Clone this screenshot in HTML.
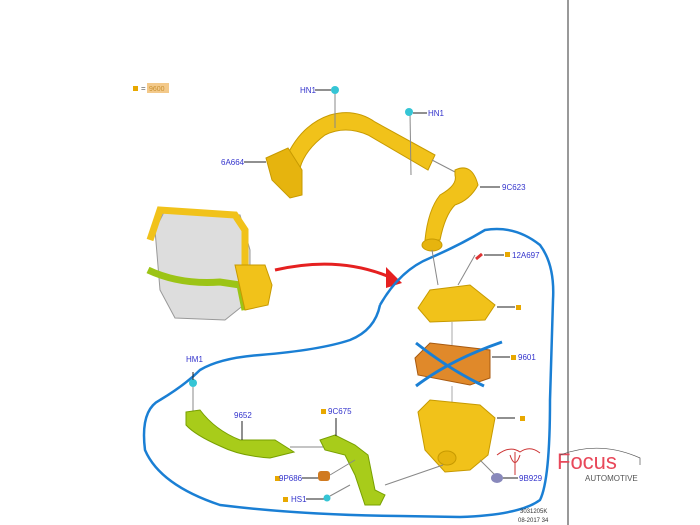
<!DOCTYPE html>
<html><head><meta charset="utf-8"><style>
html,body{margin:0;padding:0;background:#fff;}
svg{display:block;font-family:"Liberation Sans",sans-serif;}
.l{fill:#3333cc;font-size:8px;}
</style></head><body>
<svg width="700" height="525" viewBox="0 0 700 525">
<rect width="700" height="525" fill="#fff"/>
<line x1="568" y1="0" x2="568" y2="525" stroke="#999" stroke-width="2"/>
<rect x="133" y="86" width="5" height="5" fill="#e8a800"/>
<text x="141" y="91" font-size="8" fill="#555">=</text>
<rect x="147" y="83" width="22" height="10" fill="#f3c98a"/>
<text x="149" y="91" font-size="7" fill="#c89030">9600</text>
<!-- upper pipe 6A664 -->
<path d="M285 160 Q300 125 330 115 Q355 108 375 122 L435 155 L428 170 L368 135 Q345 125 325 135 Q305 150 300 168 Z" fill="#f1c21a" stroke="#c79a00" stroke-width="1"/>
<path d="M266 158 L288 148 L302 170 L302 195 L290 198 L272 180 Z" fill="#e6b40e" stroke="#c79a00"/>
<line x1="335" y1="92" x2="335" y2="128" stroke="#888"/>
<line x1="410" y1="113" x2="411" y2="175" stroke="#888"/>
<circle cx="335" cy="90" r="4" fill="#35c5d5"/>
<circle cx="409" cy="112" r="4" fill="#35c5d5"/>
<text x="300" y="93" class="l">HN1</text><line x1="315" y1="90" x2="331" y2="90" stroke="#222"/>
<text x="428" y="116" class="l">HN1</text><line x1="413" y1="113" x2="427" y2="113" stroke="#222"/>
<text x="221" y="165" class="l">6A664</text><line x1="244" y1="162" x2="266" y2="162" stroke="#222"/>
<!-- 9C623 hose -->
<line x1="432" y1="160" x2="455" y2="172" stroke="#888"/>
<path d="M455 170 Q472 162 478 185 Q470 200 455 205 Q445 215 440 240 L425 240 Q428 210 440 195 Q458 185 455 175 Z" fill="#f1c21a" stroke="#c79a00"/>
<ellipse cx="432" cy="245" rx="10" ry="6" fill="#e6b40e" stroke="#c79a00"/>
<text x="502" y="190" class="l">9C623</text><line x1="480" y1="187" x2="500" y2="187" stroke="#222"/>
<!-- engine -->
<path d="M155 230 L165 210 L240 215 L250 250 L250 300 L225 320 L175 318 L160 290 Z" fill="#ddd" stroke="#999"/>
<path d="M150 240 L160 210 L235 215 L245 230 L245 270" fill="none" stroke="#f1c21a" stroke-width="7"/>
<path d="M148 270 Q180 285 220 282 L240 285 L245 310" fill="none" stroke="#9cc416" stroke-width="7"/>
<path d="M235 265 L265 265 L272 285 L268 305 L245 310 Z" fill="#f1c21a" stroke="#c79a00"/>
<!-- red arrow -->
<path d="M275 270 Q340 255 392 278" fill="none" stroke="#e52020" stroke-width="3"/>
<path d="M386 267 L402 283 L386 288 Z" fill="#e52020"/>
<!-- blue loop -->
<path d="M380 305 Q400 270 430 258 Q460 245 485 230 Q515 225 540 245 Q555 265 553 300 L550 400 Q550 480 540 500 Q520 515 460 517 L400 516 Q300 515 220 505 Q160 485 145 450 Q140 410 160 400 Q185 385 200 370 Q220 358 260 355 Q320 350 350 340 Q375 330 380 305" fill="none" stroke="#1a7fd4" stroke-width="2.5"/>
<!-- air box top -->
<line x1="432" y1="250" x2="438" y2="285" stroke="#888"/>
<path d="M475 255 L458 285" stroke="#888"/>
<path d="M476 259 L482 254" stroke="#d33" stroke-width="3"/>
<text x="512" y="258" class="l">12A697</text><rect x="505" y="252" width="5" height="5" fill="#e8a800"/><line x1="484" y1="255" x2="504" y2="255" stroke="#222"/>
<path d="M418 308 L430 290 L470 285 L495 305 L485 320 L430 322 Z" fill="#f1c21a" stroke="#c79a00"/>
<line x1="497" y1="307" x2="515" y2="307" stroke="#222"/><rect x="516" y="305" width="5" height="5" fill="#e8a800"/>
<line x1="452" y1="322" x2="452" y2="345" stroke="#aaa"/>
<!-- filter 9601 -->
<path d="M415 358 L430 343 L490 350 L490 378 L470 385 L418 375 Z" fill="#e0892a" stroke="#a85a10"/>
<path d="M416 343 Q450 370 484 386 M416 386 Q450 360 502 342" stroke="#1a7fd4" stroke-width="3" fill="none"/>
<line x1="492" y1="357" x2="510" y2="357" stroke="#222"/><rect x="511" y="355" width="5" height="5" fill="#e8a800"/>
<text x="518" y="360" class="l">9601</text>
<line x1="452" y1="386" x2="452" y2="405" stroke="#aaa"/>
<!-- lower box -->
<path d="M418 412 L430 400 L480 405 L495 418 L488 455 L470 470 L445 472 L425 450 Z" fill="#f1c21a" stroke="#c79a00"/>
<ellipse cx="447" cy="458" rx="9" ry="7" fill="#e6b40e" stroke="#c79a00"/>
<line x1="497" y1="418" x2="515" y2="418" stroke="#222"/><rect x="520" y="416" width="5" height="5" fill="#e8a800"/>
<line x1="480" y1="460" x2="498" y2="478" stroke="#888"/>
<ellipse cx="497" cy="478" rx="6" ry="5" fill="#8888bb"/>
<text x="519" y="481" class="l">9B929</text><line x1="503" y1="478" x2="518" y2="478" stroke="#222"/>
<line x1="443" y1="465" x2="385" y2="485" stroke="#888"/>
<!-- green ducts -->
<circle cx="193" cy="383" r="4" fill="#35c5d5"/>
<line x1="193" y1="372" x2="193" y2="380" stroke="#222"/><line x1="193" y1="387" x2="193" y2="420" stroke="#888"/>
<text x="186" y="362" class="l">HM1</text>
<path d="M186 412 L200 410 Q215 430 240 440 Q265 440 275 440 L294 452 L270 458 Q240 456 220 446 Q195 435 186 425 Z" fill="#a8cc1a" stroke="#78a000"/>
<text x="234" y="418" class="l">9652</text><line x1="242" y1="421" x2="242" y2="440" stroke="#222"/>
<line x1="290" y1="447" x2="325" y2="447" stroke="#888"/>
<path d="M320 440 L335 435 L355 445 L368 455 L375 490 L385 495 L380 505 L365 505 L355 475 L345 455 L325 450 Z" fill="#a8cc1a" stroke="#78a000"/>
<rect x="321" y="409" width="5" height="5" fill="#e8a800"/><text x="328" y="414" class="l">9C675</text>
<line x1="336" y1="418" x2="336" y2="436" stroke="#222"/>
<rect x="275" y="476" width="5" height="5" fill="#e8a800"/><text x="279" y="481" class="l">9P686</text>
<line x1="302" y1="478" x2="318" y2="478" stroke="#222"/>
<rect x="318" y="471" width="12" height="10" rx="3" fill="#d07a20"/>
<line x1="330" y1="475" x2="355" y2="460" stroke="#888"/>
<rect x="283" y="497" width="5" height="5" fill="#e8a800"/><text x="291" y="502" class="l">HS1</text>
<line x1="306" y1="499" x2="324" y2="499" stroke="#222"/>
<circle cx="327" cy="498" r="3.5" fill="#35c5d5"/>
<line x1="330" y1="496" x2="350" y2="485" stroke="#888"/>
<!-- watermark -->
<path d="M497 455 Q510 445 520 452 Q530 445 540 453" fill="none" stroke="#c33" stroke-width="1"/>
<path d="M515 452 L515 475 M510 455 Q515 470 520 455" fill="none" stroke="#c33"/>
<text x="557" y="469" font-size="22" fill="#e8485a">Focus</text>
<path d="M560 455 Q600 440 640 458 L640 465" fill="none" stroke="#555" stroke-width="0.7"/>
<text x="585" y="481" font-size="8" fill="#555">AUTOMOTIVE</text>
<text x="520" y="513" font-size="6" fill="#333">3031205K</text>
<text x="518" y="522" font-size="6" fill="#333">08-2017 34</text>
</svg>
</body></html>
